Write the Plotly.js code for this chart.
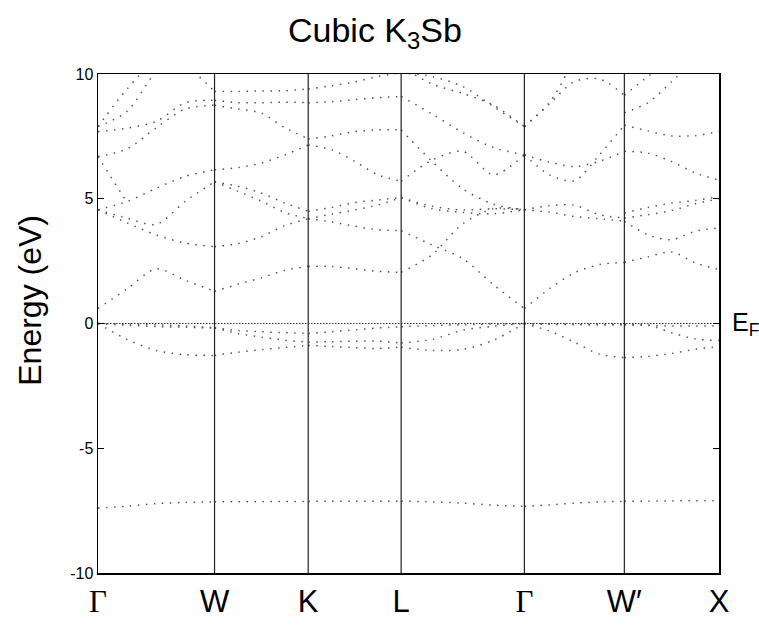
<!DOCTYPE html>
<html>
<head>
<meta charset="utf-8">
<script src="https://cdn.plot.ly/plotly-3.0.1.min.js"></script>
<style>html,body{margin:0;padding:0;background:#fff;}</style>
</head>
<body>
<div id="chart" style="width:759px;height:625px;"></div>
<script>
// High-symmetry path (k positions along the path) and labels
const pathLabels = ['Γ', 'W', 'K', 'L', 'Γ', 'W′', 'X'];
const pathK = [0, 1.166, 2.103, 3.033, 4.266, 5.266, 6.213];
const samplesPerSegment = 4; // values read at quarter points of each segment

const energyTicks = [-10, -5, 0, 5, 10];
const energyTickText = ['-10', '-5', '0', '5', '10'];
const fermiEnergy = 0;

// Band energies (eV), 25 values: Γ..W, W..K, K..L, L..Γ, Γ..W', W'..X at quarter points
const bandCore = [-7.40, -7.32, -7.22, -7.17, -7.15, -7.14, -7.14, -7.13, -7.13, -7.12, -7.12, -7.12, -7.12, -7.15, -7.20, -7.28, -7.33, -7.27, -7.20, -7.15, -7.13, -7.12, -7.11, -7.10, -7.10];
const bandV1 = [0, -0.64, -1.08, -1.25, -1.28, -1.15, -1.05, -0.96, -0.88, -0.92, -0.97, -1.00, -0.95, -1.08, -1.04, -0.67, 0, -0.30, -0.75, -1.23, -1.37, -1.32, -1.20, -1.03, -0.93];
const bandV2 = [0, -0.07, -0.12, -0.15, -0.18, -0.40, -0.55, -0.67, -0.75, -0.73, -0.71, -0.71, -0.78, -0.64, -0.27, -0.11, 0, -0.02, -0.03, -0.03, -0.03, -0.06, -0.37, -0.62, -0.68];
const bandV3 = [0, -0.02, -0.05, -0.10, -0.17, -0.28, -0.33, -0.37, -0.40, -0.33, -0.25, -0.18, -0.13, -0.08, -0.05, -0.02, 0, -0.03, -0.05, -0.06, -0.06, -0.08, -0.10, -0.10, -0.10];
const bandC1 = [0.60, 1.39, 2.19, 1.73, 1.29, 1.57, 1.83, 2.13, 2.29, 2.29, 2.19, 2.09, 2.05, 2.75, 4.00, 4.60, 4.56, 4.46, 4.29, 4.20, 4.10, 3.55, 3.36, 3.70, 3.83];
const bandC2 = [4.56, 4.03, 3.55, 3.22, 3.08, 3.20, 3.48, 3.92, 4.20, 4.07, 3.90, 3.76, 3.72, 3.15, 2.60, 1.55, 0.60, 1.39, 2.03, 2.36, 2.45, 2.67, 2.87, 2.43, 2.16];
const bandC3 = [4.56, 4.22, 3.97, 4.90, 5.68, 5.50, 5.23, 4.83, 4.50, 4.65, 4.85, 4.95, 5.05, 4.60, 4.45, 4.40, 4.56, 4.72, 4.74, 4.36, 4.23, 4.36, 4.53, 4.80, 5.00];
const bandC4 = [4.56, 4.89, 5.42, 5.90, 6.16, 6.25, 6.43, 6.76, 7.15, 6.97, 6.50, 5.96, 5.70, 6.55, 6.90, 5.96, 6.76, 6.47, 6.29, 6.50, 6.90, 6.83, 6.49, 6.03, 5.75];
const bandC5 = [6.69, 7.00, 7.85, 8.60, 8.75, 8.60, 8.43, 7.85, 7.40, 7.52, 7.69, 7.76, 7.76, 6.50, 5.40, 4.78, 4.56, null, null, null, 4.43, 4.65, 4.83, 4.93, 5.09];
const bandC6 = [7.69, 7.83, 8.10, 8.85, 8.95, 8.85, 8.85, 8.87, 8.85, 8.89, 8.97, 9.05, 9.10, 8.40, 7.65, 7.05, 6.76, 5.96, 5.72, 6.76, 7.95, 7.72, 7.52, 7.53, 7.70];
const bandC7 = [7.89, 9.40, 10.50, 10.30, 9.30, 9.30, 9.32, 9.33, 9.40, 9.53, 9.68, 9.90, 10.05, 9.90, 9.50, 8.69, 7.89, 8.85, 10.60, null, null, null, null, null, null];
const bandC8 = [7.89, 8.50, 10.10, 11.00, null, null, null, null, null, null, null, null, 10.30, 9.60, 9.22, 8.75, 7.89, 8.80, 9.70, 9.80, 9.15, 9.90, 10.60, null, null];
const bandC9 = [null, null, null, null, null, null, null, null, null, null, null, null, null, null, null, null, null, null, null, null, 8.45, 8.85, 9.69, 10.60, null];
const bandC10 = [6.69, 4.85, null, null, 5.68, 5.30, 4.90, 4.45, 4.20, 4.38, 4.55, 4.75, 5.05, 4.70, 4.55, 4.60, 4.56, null, null, null, null, null, null, null, null];

const bands = [bandCore, bandV1, bandV2, bandV3, bandC1, bandC2, bandC3, bandC4, bandC5, bandC6, bandC7, bandC8, bandC9, bandC10];

function bandTrace(values) {
  const x = [], y = [];
  for (let s = 0; s < pathK.length - 1; s++) {
    for (let j = 0; j <= samplesPerSegment; j++) {
      x.push(pathK[s] + (pathK[s + 1] - pathK[s]) * j / samplesPerSegment);
      y.push(values[s * samplesPerSegment + j]);
    }
    x.push(null); y.push(null);
  }
  return {
    type: 'scatter', mode: 'lines', x: x, y: y, showlegend: false, hoverinfo: 'skip',
    connectgaps: false,
    line: {shape: 'spline', smoothing: 0.8, color: '#555', width: 1.5, dash: '1.5px,6.5px'}
  };
}

const traces = bands.map(bandTrace);
traces.push({
  type: 'scatter', mode: 'lines',
  x: [pathK[0], pathK[pathK.length - 1]], y: [fermiEnergy, fermiEnergy],
  showlegend: false, hoverinfo: 'skip',
  line: {color: '#333', width: 1.1, dash: '1.5px,1.5px'}
});

const tickText = pathLabels.map(l => l === 'Γ' ? '<span style="font-family:Liberation Serif">Γ</span>' : l);

const layout = {
  width: 759, height: 625,
  margin: {l: 98, r: 40, t: 74, b: 52},
  paper_bgcolor: '#fff', plot_bgcolor: '#fff',
  font: {family: 'Liberation Sans, Arial, sans-serif', color: '#000'},
  title: {
    text: 'Cubic K<sub>3</sub>Sb',
    font: {size: 34, color: '#000'},
    x: 0.494, xref: 'container', xanchor: 'center',
    y: 0.952, yref: 'container', yanchor: 'middle'
  },
  xaxis: {
    range: [pathK[0], pathK[pathK.length - 1]],
    tickmode: 'array', tickvals: pathK, ticktext: tickText,
    ticks: '', showline: true, linecolor: '#000', linewidth: 1.5, mirror: true,
    showgrid: false, zeroline: false, tickfont: {size: 31, color: '#000'}
  },
  yaxis: {
    range: [-10, 10],
    tickmode: 'array', tickvals: energyTicks, ticktext: energyTickText,
    ticks: 'inside', ticklen: 6, tickwidth: 1.2, tickcolor: '#000',
    showline: true, linecolor: '#000', linewidth: 1.5, mirror: 'ticks',
    showgrid: false, zeroline: false, tickfont: {size: 16, color: '#000'}
  },
  shapes: pathK.slice(1, -1).map(k => ({
    type: 'line', xref: 'x', yref: 'paper', x0: k, x1: k, y0: 0, y1: 1,
    line: {color: '#222', width: 1.2}
  })),
  annotations: [
    {text: 'Energy (eV)', textangle: -90, xref: 'paper', yref: 'paper', x: -0.11, y: 0.547,
     xanchor: 'center', yanchor: 'middle', showarrow: false, font: {size: 32, color: '#000'}},
    {text: 'E<sub>F</sub>', xref: 'paper', yref: 'y', x: 1, y: fermiEnergy, xanchor: 'left', yanchor: 'middle',
     xshift: 11, showarrow: false, font: {size: 25, color: '#000'}}
  ]
};

Plotly.newPlot('chart', traces, layout, {displayModeBar: false, staticPlot: true});
</script>
</body>
</html>
